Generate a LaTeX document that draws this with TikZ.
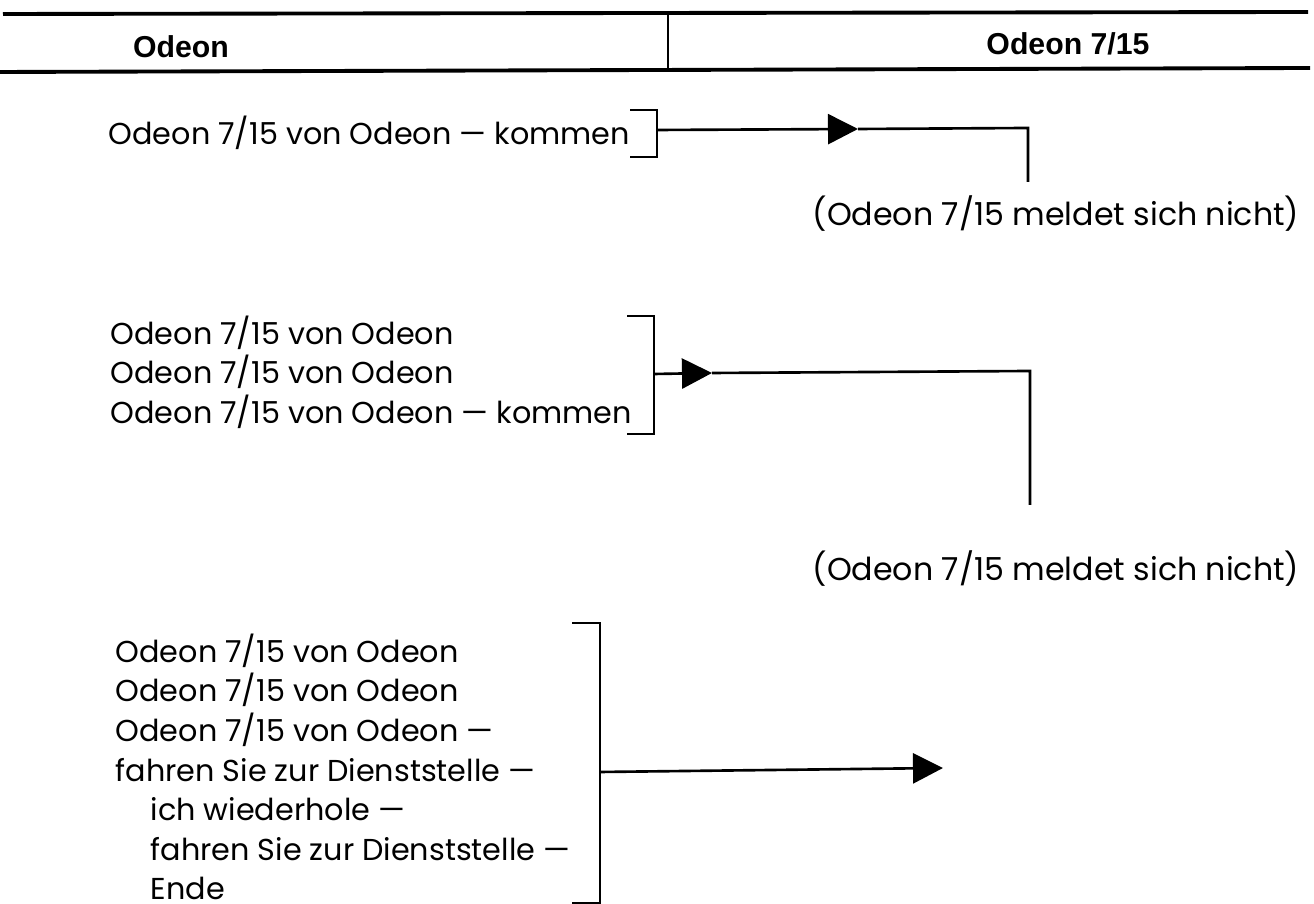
\documentclass[tikz,border=0pt]{standalone}
\usepackage{fontspec}
\setmainfont{Poppins}
\newfontfamily\headfont{Liberation Sans}
\usepackage{tikz}
\usetikzlibrary{arrows.meta,calc}

\begin{document}
\begin{tikzpicture}[x=0.01cm, y=-0.01cm,
		msg/.style={anchor=west, inner sep=0pt, align=left, font=\fontsize{8.6}{11.25}\selectfont},
		reply/.style={inner sep=0pt, font=\fontsize{9}{11}\selectfont},
		head/.style={inner sep=0pt, font=\headfont\bfseries\fontsize{8.6}{10}\selectfont},
		wire/.style={line width=0.75pt},
		tip/.style={wire, -{Triangle[length=0.3cm, width=0.3cm]}}
	]

			\useasboundingbox (0,0) rectangle (1314,904);

			\def\ind{\hspace*{0.35cm}} % indent of the repeated lines

			% Header with the two stations
			\draw[line width=1.1pt] (3,14) -- (1308,12);
			\draw[line width=1.1pt] (0,72) -- (1310,68);
			\draw[wire] (668,13) -- (668,71);
			\node[head] (hOdeon) at (181,47) {Odeon};
			\node[head] (hCar) at (1068,44) {Odeon 7/15};

			% First call
			\node[msg] (call1) at (108,133) {Odeon 7/15 von Odeon --- kommen};
			\coordinate (b1t) at (630,110);
			\coordinate (b1b) at (630,157);
			\draw[wire] (b1t) -- (657,110) -- (657,157) -- (b1b);
			\coordinate (b1m) at (657,130);
			\coordinate (a1) at (858,129);
			\coordinate (c1) at (1028,128);
			\node[reply] (noans1) at (1056,214) {(Odeon 7/15 meldet sich nicht)};
			\draw[tip] (b1m) -- (a1);
			\draw[wire] (a1) -- (c1) -- (c1 |- 0,182);

			% Second call
			\node[msg] (call2) at (110,372) {Odeon 7/15 von Odeon\\Odeon 7/15 von Odeon\\Odeon 7/15 von Odeon --- kommen};
			\coordinate (b2t) at (627,316);
			\coordinate (b2b) at (627,434);
			\draw[wire] (b2t) -- (654,316) -- (654,434) -- (b2b);
			\coordinate (b2m) at (654,374);
			\coordinate (a2) at (712,373);
			\coordinate (c2) at (1030,371);
			\node[reply] (noans2) at (1056,569) {(Odeon 7/15 meldet sich nicht)};
			\draw[tip] (b2m) -- (a2);
			\draw[wire] (a2) -- (c2) -- (c2 |- 0,505);

			% Third call, with order
			\node[msg] (call3) at (115,767) {Odeon 7/15 von Odeon\\Odeon 7/15 von Odeon\\Odeon 7/15 von Odeon ---\\fahren Sie zur Dienststelle ---\\\ind ich wiederhole ---\\\ind fahren Sie zur Dienststelle ---\\\ind Ende};
			\coordinate (b3t) at (572,623);
			\coordinate (b3b) at (572,903);
			\draw[wire] (b3t) -- (600,623) -- (600,903) -- (b3b);
			\coordinate (b3m) at (600,772);
			\coordinate (a3) at (943,768);
			\draw[tip] (b3m) -- (a3);

		\end{tikzpicture}
\end{document}
